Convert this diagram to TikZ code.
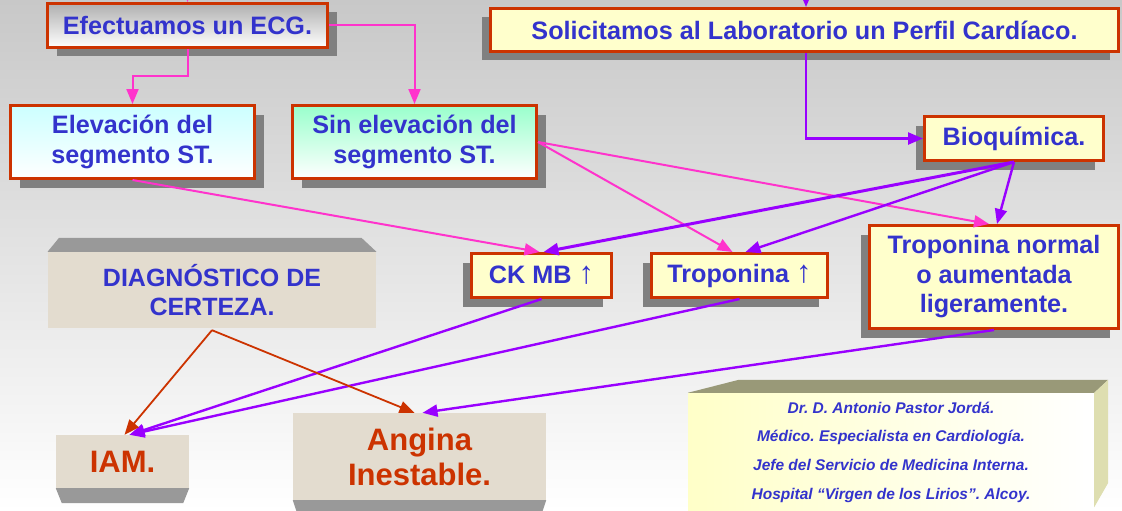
\documentclass[tikz,border=0pt]{standalone}
\usepackage{fontspec}
\setmainfont{Liberation Sans}
\usetikzlibrary{arrows.meta,shadows,calc}
\definecolor{bgtop}{HTML}{C8C8C8}
\definecolor{textblue}{HTML}{3333CC}
\definecolor{boxred}{HTML}{CC3300}
\definecolor{pinkc}{HTML}{FF33CC}
\definecolor{purpc}{HTML}{9900FF}
\definecolor{shgray}{HTML}{808080}
\definecolor{yellowbox}{HTML}{FFFFCC}
\definecolor{beige}{HTML}{E3DCCF}
\definecolor{bevelgray}{HTML}{999999}
\definecolor{ecgtop}{HTML}{B0B0B0}
\definecolor{cyantop}{HTML}{CCFFFF}
\definecolor{greentop}{HTML}{99FFCC}
\definecolor{olivetop}{HTML}{999978}
\definecolor{oliveside}{HTML}{DEDEB0}
\definecolor{authyellow}{HTML}{FFFFC8}
\newcommand{\uparr}{{\fontsize{31pt}{31pt}\fontseries{m}\selectfont ↑}}
\begin{document}
\frenchspacing
\begin{tikzpicture}[x=1pt,y=-1pt,
  box/.style={draw=boxred, line width=3pt, inner sep=0pt, align=center, text=textblue,
    font=\fontsize{25.2pt}{29.5pt}\selectfont\bfseries},
  yellow box/.style={box, fill=yellowbox},
  shR/.style={drop shadow={shadow xshift=9pt,shadow yshift=-9pt,opacity=1,fill=shgray}},
  shL/.style={drop shadow={shadow xshift=-9pt,shadow yshift=-9pt,opacity=1,fill=shgray}},
  stone/.style={fill=beige, inner sep=0pt, align=center},
  bevel/.style={fill=bevelgray},
  tip/.style={-{Triangle[length=15pt,width=12pt]}},
  pinkarrow/.style={tip, draw=pinkc, line width=2pt},
  purparrow/.style={tip, draw=purpc, line width=2.4pt},
  redarrow/.style={tip, draw=boxred, line width=1.8pt}]
\useasboundingbox (0,0) rectangle (1122,511);
\clip (0,0) rectangle (1122,511);
\shade[top color=bgtop, bottom color=white] (0,0) rectangle (1122,511);

% boxes
\node[box, shR, top color=ecgtop, bottom color=white, minimum width=280pt, minimum height=44pt]
  (ecg) at (187.5,25.5) {Efectuamos un ECG.};
\node[yellow box, shL, minimum width=628pt, minimum height=43pt]
  (sol) at (804.5,30) {Solicitamos al Laboratorio un Perfil Cardíaco.};
\node[box, shR, top color=cyantop, bottom color=white, minimum width=244pt, minimum height=73pt]
  (elev) at (132.5,142) {Elevación del\\segmento ST.};
\node[box, shR, top color=greentop, bottom color=white, minimum width=244pt, minimum height=73pt]
  (sinelev) at (414.5,142) {Sin elevación del\\segmento ST.};
\node[yellow box, shL, minimum width=179pt, minimum height=44pt]
  (bio) at (1014,138.5) {Bioquímica.};
\node[yellow box, shL, minimum width=140pt, minimum height=44pt]
  (ckmb) at (541.5,275.5) {CK MB \uparr};
\node[yellow box, shL, minimum width=176pt, minimum height=44pt]
  (trop) at (739.5,275.5) {Troponina \uparr};
\node[yellow box, shL, minimum width=249pt, minimum height=103pt]
  (tropn) at (994,277) {Troponina normal\\o aumentada\\ligeramente.};

% stone boxes
\node[stone, minimum width=328.5pt, minimum height=76pt, text=textblue,
  font=\fontsize{25pt}{29pt}\selectfont\bfseries] (diag) at (212,290) {DIAGNÓSTICO DE\\CERTEZA.};
\fill[bevel] (diag.north west) -- ([shift={(11.5,-14)}]diag.north west)
  -- ([shift={(-15,-14)}]diag.north east) -- (diag.north east) -- cycle;
\node[stone, minimum width=133pt, minimum height=53pt, text=boxred,
  font=\fontsize{31pt}{35pt}\selectfont\bfseries] (iam) at (122.5,461.5) {IAM.};
\fill[bevel] (iam.south west) -- ([shift={(6,15)}]iam.south west)
  -- ([shift={(-6,15)}]iam.south east) -- (iam.south east) -- cycle;
\node[stone, minimum width=253pt, minimum height=87pt, text=boxred,
  font=\fontsize{31pt}{35pt}\selectfont\bfseries] (angina) at (419.5,456.5) {Angina\\Inestable.};
\fill[bevel] (angina.south west) -- ([shift={(5,15)}]angina.south west)
  -- ([shift={(-5,15)}]angina.south east) -- (angina.south east) -- cycle;

% author box
\node[left color=authyellow, right color=white, inner sep=0pt, align=center, text=textblue,
  minimum width=406pt, minimum height=118pt,
  font=\fontsize{15.5pt}{28.7pt}\selectfont\bfseries\itshape] (author) at (891,452)
  {Dr. D. Antonio Pastor Jordá.\\Médico. Especialista en Cardiología.\\Jefe del Servicio de Medicina Interna.\\Hospital “Virgen de los Lirios”. Alcoy.};
\fill[olivetop] (author.north west) -- ([shift={(51,-13)}]author.north west)
  -- ([shift={(14,-13)}]author.north east) -- (author.north east) -- cycle;
\fill[oliveside] (author.north east) -- ([shift={(14,-13)}]author.north east)
  -- ++(0,103) -- ([shift={(0,-4)}]author.south east) -- cycle;

% connectors
\coordinate (ecgin) at (187.5,-40);
\coordinate (solin) at (806,-40);
\draw[pinkarrow] (ecgin) -- (ecg.north);
\draw[purparrow] (solin) -- ([xshift=1.5pt]sol.north);
\draw[pinkarrow] (ecg.south) |- ++(0,27) -| (elev.north);
\draw[pinkarrow] (ecg.east) -| (sinelev.north);
\draw[purparrow] ([xshift=1.5pt]sol.south) |- (bio.west);
\draw[pinkarrow] (elev.south) -- ([xshift=-2pt]ckmb.north);
\draw[pinkarrow] (sinelev.east) -- ([xshift=-7pt]trop.north);
\draw[pinkarrow] (sinelev.east) -- ([xshift=-5pt]tropn.north);
\draw[purparrow, line width=3pt] (bio.south) -- ([xshift=2pt]ckmb.north);
\draw[purparrow] (bio.south) -- ([xshift=6pt]trop.north);
\draw[purparrow] (bio.south) -- ([xshift=3pt]tropn.north);
\draw[purparrow] (ckmb.south) -- ([xshift=7pt]iam.north);
\draw[purparrow] (trop.south) -- ([xshift=7pt]iam.north);
\draw[purparrow] (tropn.south) -- ([xshift=3pt]angina.north);
\draw[redarrow] ([yshift=-2pt]diag.south) -- ([xshift=2pt]iam.north);
\draw[redarrow] ([yshift=-2pt]diag.south) -- ([xshift=-5pt]angina.north);
\end{tikzpicture}
\end{document}
